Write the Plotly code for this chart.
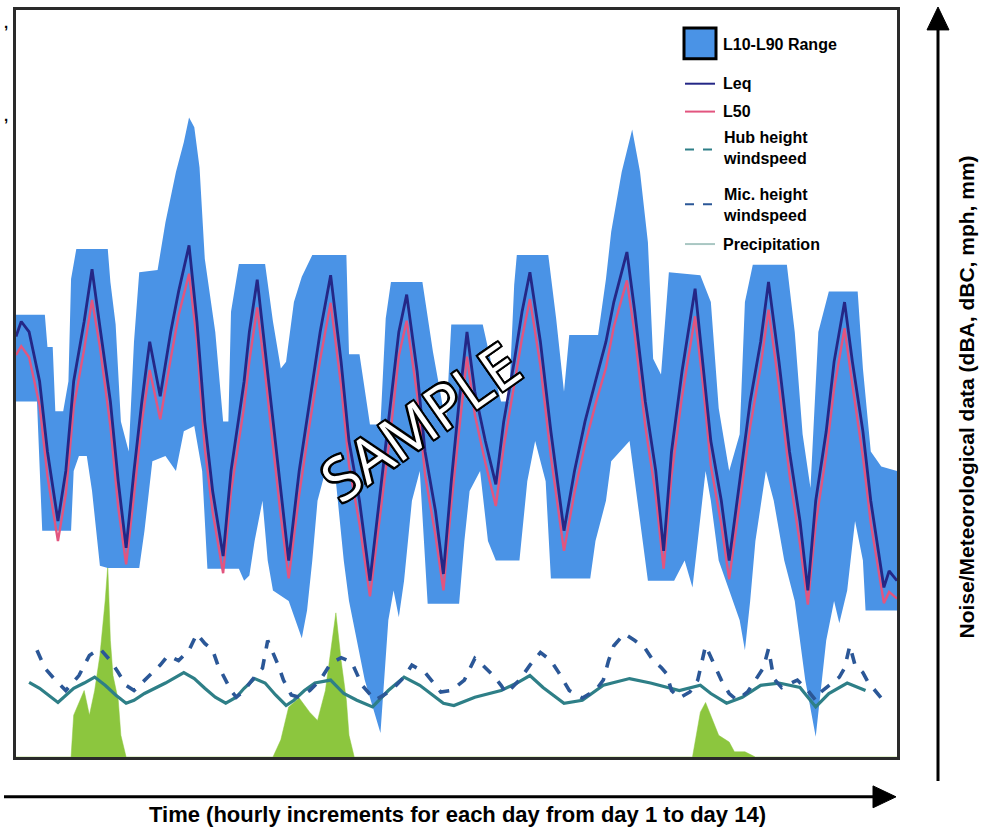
import plotly.graph_objects as go

# ---------------- DATA (hours 0..336, values in dB / mph / mm units) ----------------
LEQ_HOURS = [0, 2, 5, 9, 12, 16, 19, 22, 26, 29, 32, 36, 39, 42, 45, 48, 51, 55, 59, 62,
             66, 69, 72, 75, 79, 82, 87, 89, 92, 95, 98, 101, 104, 108, 112, 116, 120, 124,
             127, 131, 135, 139, 143, 146, 149, 153, 156, 160, 163, 166, 169, 172, 175, 179,
             183, 186, 190, 193, 196, 200, 204, 209, 213, 217, 221, 225, 228, 233, 236, 240,
             244, 247, 250, 254, 259, 262, 265, 269, 272, 276, 280, 284, 287, 291, 295, 299,
             302, 305, 309, 312, 316, 319, 323, 326, 331, 333, 336]
LEQ = [56.3, 58.3, 56.9, 50.3, 40.9, 31.6, 38.3, 50.3, 58.3, 65.3, 57.6, 47.6, 36.9, 28.0,
       38.3, 47.6, 55.6, 48.3, 56.9, 62.3, 68.5, 58.3, 44.9, 35.6, 26.9, 38.3, 50.3, 56.9,
       63.9, 54.3, 44.9, 35.6, 26.3, 38.3, 47.6, 56.9, 64.5, 52.9, 42.3, 34.3, 23.6, 35.6,
       47.6, 56.9, 61.9, 51.6, 40.9, 32.9, 24.5, 36.9, 47.6, 56.9, 48.9, 42.3, 36.5, 44.9,
       52.9, 59.6, 64.9, 55.6, 43.6, 30.3, 38.3, 44.9, 50.3, 55.6, 60.9, 67.6, 59.6, 47.6,
       38.3, 27.6, 40.9, 51.6, 62.7, 52.9, 42.3, 34.3, 26.3, 36.9, 47.6, 55.6, 63.6, 52.9,
       40.9, 31.6, 22.3, 34.3, 43.6, 52.9, 60.9, 52.9, 43.6, 34.3, 22.7, 24.9, 23.6]
L50 = [53.8, 55.0, 53.5, 47.1, 37.6, 28.9, 35.2, 46.8, 54.6, 61.2, 54.9, 44.3, 33.4, 25.8,
       35.0, 44.9, 51.8, 45.2, 53.3, 59.1, 64.7, 55.6, 41.3, 32.8, 24.6, 35.5, 46.9, 53.0,
       60.2, 51.4, 41.7, 32.2, 23.9, 35.1, 44.6, 53.2, 60.8, 49.7, 39.1, 31.2, 21.5, 32.8,
       44.0, 53.7, 58.4, 48.5, 37.8, 29.6, 22.3, 33.8, 44.1, 53.6, 45.8, 39.4, 33.6, 41.5,
       49.8, 56.1, 61.3, 52.4, 40.2, 27.6, 35.4, 41.8, 47.2, 52.1, 57.6, 63.8, 56.5, 44.3,
       35.0, 25.2, 37.6, 48.2, 59.0, 49.9, 39.0, 31.1, 23.8, 33.9, 44.2, 52.3, 59.9, 49.6,
       37.8, 28.5, 20.4, 31.2, 40.5, 49.3, 57.4, 49.8, 40.2, 31.3, 20.6, 22.1, 21.2]

L10_HOURS = [0, 11, 12, 14, 15, 18, 20, 21, 23, 35, 36, 38, 40, 43, 45, 47, 54, 57, 61, 64,
             66, 68, 70, 72, 76, 79, 81, 82, 85, 95, 98, 101, 103, 106, 109, 113, 126, 127,
             131, 135, 139, 141, 143, 155, 159, 164, 166, 178, 182, 185, 188, 190, 191, 203,
             206, 209, 211, 222, 225, 227, 231, 235, 238, 241, 243, 246, 249, 261, 265, 268,
             272, 276, 278, 281, 294, 297, 300, 303, 306, 310, 321, 323, 326, 330, 336]
L10 = [59.2, 59.2, 54.9, 54.9, 46.3, 46.3, 50.3, 64.0, 68.0, 68.0, 63.6, 57.9, 44.9, 40.9,
       55.6, 64.9, 65.2, 71.6, 78.3, 82.3, 85.6, 84.3, 78.9, 66.7, 56.9, 44.9, 44.9, 59.6,
       66.0, 66.0, 58.3, 52.0, 52.9, 60.9, 64.3, 67.2, 67.2, 53.9, 53.9, 44.5, 44.5, 58.7,
       63.6, 63.6, 54.3, 44.5, 57.9, 57.9, 51.6, 47.6, 47.6, 63.2, 67.2, 67.2, 58.7, 48.9,
       56.5, 56.5, 64.0, 70.3, 78.3, 84.0, 78.3, 68.9, 53.3, 51.2, 64.9, 64.5, 60.9, 46.7,
       38.3, 43.2, 60.9, 65.9, 65.9, 56.9, 43.2, 36.0, 56.9, 62.3, 62.3, 52.0, 40.9, 38.9,
       38.3]

L90_HOURS = [0, 8, 10, 21, 22, 24, 27, 29, 32, 35, 47, 49, 52, 57, 61, 64, 68, 71, 73, 85,
             87, 89, 91, 94, 96, 98, 104, 109, 111, 113, 115, 118, 122, 125, 127, 133, 139,
             142, 144, 146, 148, 151, 154, 157, 169, 171, 173, 177, 180, 183, 192, 195, 198,
             202, 204, 219, 221, 225, 227, 234, 238, 241, 251, 255, 258, 260, 263, 265, 268,
             272, 276, 278, 280, 282, 286, 289, 293, 297, 301, 305, 309, 312, 314, 317, 320,
             323, 324, 336]
L90 = [47.6, 47.6, 30.3, 30.3, 38.3, 40.3, 40.3, 35.6, 25.6, 25.3, 25.3, 30.3, 39.6, 40.3,
       38.3, 43.6, 44.3, 38.3, 25.2, 25.2, 23.6, 24.3, 28.9, 34.3, 26.3, 22.3, 20.9, 15.9,
       19.6, 26.3, 34.3, 38.3, 36.9, 26.3, 20.9, 10.3, 3.2, 18.3, 22.3, 18.7, 23.6, 34.3,
       38.3, 20.5, 20.5, 28.9, 35.6, 38.3, 28.9, 26.3, 26.3, 36.9, 42.3, 36.9, 23.9, 23.9,
       28.9, 34.3, 39.6, 42.3, 31.6, 23.6, 23.6, 26.3, 22.7, 28.9, 38.3, 34.3, 26.3, 22.3,
       18.3, 14.3, 20.9, 28.9, 38.3, 34.3, 26.3, 20.9, 10.3, 2.7, 15.6, 20.9, 17.9, 22.3,
       31.6, 26.3, 19.6, 19.6]

MIC_HOURS = [8, 11, 15, 19, 24, 28, 32, 36, 39, 42, 45, 47, 51, 55, 58, 62, 66, 69, 72, 75,
             77, 80, 82, 84, 87, 90, 94, 96, 100, 102, 105, 108, 112, 116, 120, 124, 128, 132,
             137, 143, 148, 151, 156, 160, 162, 166, 171, 175, 178, 182, 185, 187, 192, 196,
             200, 204, 207, 211, 216, 221, 224, 226, 228, 232, 236, 240, 243, 246, 248, 250,
             253, 257, 260, 263, 267, 269, 272, 275, 279, 282, 285, 287, 289, 292, 298, 302,
             305, 307, 310, 314, 316, 318, 320, 323, 325, 328, 330, 331]
MIC_WIND = [14.3, 11.9, 10.3, 8.9, 10.9, 13.6, 14.5, 12.9, 11.3, 9.6, 8.9, 9.6, 10.9, 12.3,
            13.6, 12.9, 14.3, 16.5, 15.2, 14.3, 12.3, 10.3, 8.9, 8.0, 8.9, 10.3, 11.9, 15.6,
            12.3, 10.3, 8.3, 8.0, 8.9, 10.3, 12.5, 13.3, 12.7, 9.6, 7.6, 8.9, 10.7, 12.3, 11.3,
            9.6, 8.7, 8.9, 10.3, 13.2, 12.3, 10.9, 9.6, 8.5, 10.3, 12.3, 14.0, 12.9, 11.3, 8.9,
            7.9, 8.9, 10.3, 12.9, 14.9, 16.5, 15.6, 14.5, 12.9, 12.0, 11.2, 8.9, 7.9, 8.7, 10.3,
            14.9, 11.9, 10.3, 8.5, 7.6, 8.7, 10.3, 11.9, 14.5, 10.5, 9.3, 10.3, 8.9, 7.6, 8.7,
            9.6, 10.7, 11.9, 14.9, 12.3, 11.3, 10.0, 8.7, 7.9, 8.9]

HUB_HOURS = [5, 9, 16, 22, 26, 30, 34, 38, 42, 45, 49, 53, 57, 64, 68, 72, 76, 80, 84, 87,
             91, 95, 99, 103, 106, 110, 114, 120, 125, 130, 136, 142, 148, 154, 163, 167, 175,
             185, 191, 196, 201, 209, 216, 224, 234, 242, 248, 253, 261, 265, 271, 277, 284,
             291, 299, 305, 310, 317, 324]
HUB_WIND = [10.0, 9.2, 7.3, 9.2, 9.9, 10.7, 9.6, 8.3, 7.2, 7.6, 8.5, 9.2, 9.9, 11.3, 10.5,
            9.2, 8.0, 7.2, 8.0, 9.2, 10.5, 9.9, 8.3, 6.9, 7.6, 8.9, 9.9, 10.3, 8.5, 7.6, 6.7,
            8.9, 10.7, 9.6, 7.2, 6.9, 8.0, 8.9, 9.9, 10.9, 9.3, 7.2, 7.6, 9.6, 10.5, 9.9, 9.3,
            8.9, 9.6, 8.5, 7.2, 8.0, 9.6, 9.9, 9.3, 6.7, 8.5, 9.9, 8.9]

PRECIP_HOURS = [0, 21, 22, 26, 28, 30, 32, 34, 35, 36, 37, 39, 40, 42, 98, 101, 104, 108,
                112, 115, 118, 120, 122, 124, 126, 127, 129, 258, 261, 263, 266, 268, 272,
                274, 278, 282, 336]
PRECIP = [0, 0, 5.6, 8.9, 5.6, 8.9, 13.6, 20.9, 25.6, 15.6, 10.9, 7.6, 2.9, 0, 0, 2.3, 6.7,
          7.9, 6.0, 4.9, 8.9, 14.3, 19.3, 12.9, 7.6, 2.9, 0, 0, 6.0, 7.3, 4.7, 2.9, 2.0, 0.7,
          0.7, 0, 0]

LEGEND_LABELS = ["L10-L90 Range", "Leq", "L50", "Hub height<br>windspeed",
                 "Mic. height<br>windspeed", "Precipitation"]
X_TITLE = "Time (hourly increments for each day from day 1 to day 14)"
Y_TITLE = "Noise/Meteorological data (dBA, dBC, mph, mm)"

# ---------------- STYLE ----------------
BAND_COLOR = "#4a93e6"
LEQ_COLOR = "#242786"
L50_COLOR = "#e2557f"
MIC_COLOR = "#2b5797"
HUB_COLOR = "#2e7f87"
PRECIP_COLOR = "#8cc63e"
PRECIP_LEG = "#a9c7c3"
FONT = "Liberation Sans Narrow, Liberation Sans, Arial, sans-serif"

W, H = 988, 829
L, R, T, B = 16, 897, 7, 757


def px(x):
    return (x - L) / (R - L)


def py(y):
    return (B - y) / (B - T)


fig = go.Figure()

fig.add_trace(go.Scatter(x=PRECIP_HOURS, y=PRECIP, mode="lines", fill="tozeroy",
                         line=dict(color=PRECIP_COLOR, width=0.5), fillcolor=PRECIP_COLOR,
                         showlegend=False, name="Precipitation"))

fig.add_trace(go.Scatter(x=L10_HOURS + L90_HOURS[::-1], y=L10 + L90[::-1], mode="lines",
                         fill="toself", fillcolor=BAND_COLOR, line=dict(width=0),
                         showlegend=False, name="L10-L90 Range"))

fig.add_trace(go.Scatter(x=LEQ_HOURS, y=L50, mode="lines",
                         line=dict(color=L50_COLOR, width=2.4), showlegend=False, name="L50"))
fig.add_trace(go.Scatter(x=LEQ_HOURS, y=LEQ, mode="lines",
                         line=dict(color=LEQ_COLOR, width=2.8), showlegend=False, name="Leq"))

fig.add_trace(go.Scatter(x=HUB_HOURS, y=HUB_WIND, mode="lines",
                         line=dict(color=HUB_COLOR, width=3.2), showlegend=False,
                         name="Hub height windspeed"))
fig.add_trace(go.Scatter(x=MIC_HOURS, y=MIC_WIND, mode="lines",
                         line=dict(color=MIC_COLOR, width=3.6, dash="dash"), showlegend=False,
                         name="Mic. height windspeed"))

shapes = []
annotations = []

# manual legend
shapes.append(dict(type="rect", xref="paper", yref="paper", x0=px(684), x1=px(716),
                   y0=py(56), y1=py(25), fillcolor=BAND_COLOR, line=dict(color="black", width=3)))
leg_lines = [(81, LEQ_COLOR, "solid"), (109, L50_COLOR, "solid"), (147, HUB_COLOR, "dash"),
             (202, MIC_COLOR, "dash"), (242, PRECIP_LEG, "solid")]
for yy, col, dsh in leg_lines:
    shapes.append(dict(type="line", xref="paper", yref="paper", x0=px(685), x1=px(715),
                       y0=py(yy), y1=py(yy), line=dict(color=col, width=2, dash=dsh)))
leg_text_y = [42, 81, 109, 146, 203, 242]
for lab, yy in zip(LEGEND_LABELS, leg_text_y):
    annotations.append(dict(text="<b>" + lab + "</b>", xref="paper", yref="paper",
                            x=px(721), y=py(yy), xanchor="left", yanchor="middle",
                            align="left", showarrow=False,
                            font=dict(family=FONT, size=16, color="black")))

# axis arrows
shapes.append(dict(type="line", xref="paper", yref="paper", x0=px(938), x1=px(938),
                   y0=py(781), y1=py(22), line=dict(color="black", width=3)))
shapes.append(dict(type="path", xref="paper", yref="paper",
                   path=f"M {px(938)},{py(4)} L {px(927)},{py(27)} L {px(949)},{py(27)} Z",
                   fillcolor="black", line=dict(color="black", width=1)))
shapes.append(dict(type="line", xref="paper", yref="paper", x0=px(4), x1=px(876),
                   y0=py(797), y1=py(797), line=dict(color="black", width=3)))
shapes.append(dict(type="path", xref="paper", yref="paper",
                   path=f"M {px(896)},{py(797)} L {px(873)},{py(786)} L {px(873)},{py(808)} Z",
                   fillcolor="black", line=dict(color="black", width=1)))

annotations.append(dict(text="<b>" + X_TITLE + "</b>", xref="paper", yref="paper",
                        x=px(457), y=py(815), xanchor="center", yanchor="middle",
                        showarrow=False, font=dict(family=FONT, size=22, color="black")))
annotations.append(dict(text="<b>" + Y_TITLE + "</b>", xref="paper", yref="paper",
                        x=px(966), y=py(395), xanchor="center", yanchor="middle",
                        textangle=-90, showarrow=False,
                        font=dict(family=FONT, size=21, color="black")))

# stray tick marks at left
for yy in (20, 113):
    annotations.append(dict(text="<b>,</b>", xref="paper", yref="paper", x=px(6), y=py(yy),
                            xanchor="center", yanchor="middle", showarrow=False,
                            font=dict(family=FONT, size=15, color="black")))

# watermark
annotations.append(dict(text="SAMPLE", xref="paper", yref="paper", x=px(420), y=py(420),
                        xanchor="center", yanchor="middle", textangle=-35, showarrow=False,
                        font=dict(family="Open Sans, sans-serif", size=60, color="white",
                                  weight=400,
                                  shadow="-2px -2px 0 #000, 2px -2px 0 #000, -2px 2px 0 #000, "
                                         "2px 2px 0 #000, 0 2px 0 #000, 2px 0 0 #000, "
                                         "0 -2px 0 #000, -2px 0 0 #000")))

fig.update_layout(
    width=W, height=H,
    margin=dict(l=L, r=W - R, t=T, b=H - B, pad=0),
    paper_bgcolor="white", plot_bgcolor="white",
    showlegend=False,
    shapes=shapes, annotations=annotations,
    xaxis=dict(range=[0, 336], showgrid=False, zeroline=False, showticklabels=False,
               ticks="", showline=True, mirror=True, linecolor="#2a2a2a", linewidth=2.5),
    yaxis=dict(range=[0, 100], showgrid=False, zeroline=False, showticklabels=False,
               ticks="", showline=True, mirror=True, linecolor="#2a2a2a", linewidth=2.5),
)

fig.write_html("out.html",
               config={"displayModeBar": False},
               post_script="document.body.style.margin='0';"
                           "document.body.style.padding='0';"
                           "document.body.style.overflow='hidden';")
